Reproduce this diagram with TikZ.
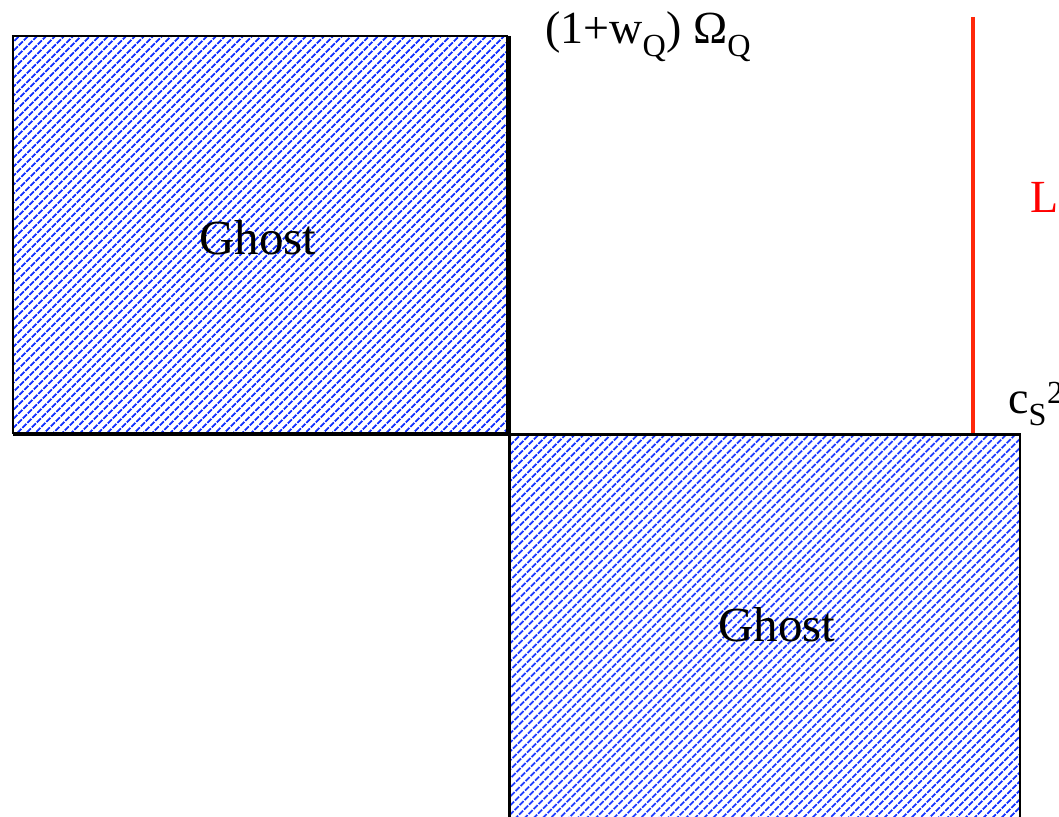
\documentclass[tikz,border=0pt]{standalone}
\usepackage{fontspec}
\setmainfont{Liberation Serif}
\usetikzlibrary{patterns.meta}
\definecolor{hatch}{RGB}{20,50,255}
\definecolor{redline}{RGB}{255,40,10}
\tikzset{
  ghostfill/.style={pattern={Lines[angle=45,distance=6.5pt,line width=2pt]},pattern color=hatch},
  axisline/.style={line width=3pt,black},
  lbl/.style={inner sep=0pt,font=\fontsize{46}{52}\selectfont},
}
\begin{document}
\begin{tikzpicture}[x=1pt,y=-1pt]
\useasboundingbox (0,0) rectangle (1059,816);
\clip (0,0) rectangle (1059,816);
% ghost regions
\fill[ghostfill] (13,36) rectangle (507,433);
\draw[line width=2pt] (13,36) rectangle (507,433);
\fill[ghostfill] (510,434) rectangle (1020,830);
\draw[line width=2pt] (1020,434) -- (1020,830);
% axes
\coordinate (vtop) at (509.5,36);
\coordinate (vbot) at (509.5,830);
\coordinate (hl) at (13,434);
\coordinate (hr) at (1021,434);
\draw[axisline] (vtop) -- (vbot);
\draw[axisline] (hl) -- (hr);
% red line
\coordinate (rtop) at (973,17);
\coordinate (rbot) at (973,433);
\draw[redline,line width=4pt] (rtop) -- (rbot);
% labels
\node[lbl,anchor=base,font=\fontsize{49}{56}\selectfont] (ghostA) at (258,254) {Ghost};
\node[lbl,anchor=base,font=\fontsize{49}{56}\selectfont] (ghostB) at (777,641) {Ghost};
\node[lbl,anchor=base west,font=\fontsize{46}{52}\selectfont] (top) at (545,44) {(1+w\textsubscript{Q}) Ω\textsubscript{Q}};
\node[lbl,anchor=base west,text=red] (L) at (1030,212) {L};
\node[lbl,anchor=base west] (cs) at (1008,413) {c\textsubscript{S}\textsuperscript{2}};
\end{tikzpicture}
\end{document}
